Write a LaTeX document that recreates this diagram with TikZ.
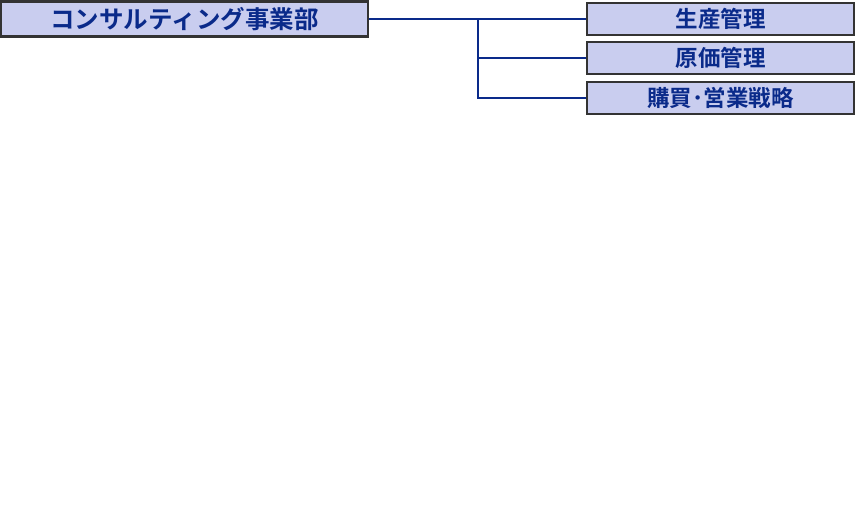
\documentclass[tikz,border=0pt]{standalone}
\usepackage{fontspec}
\newfontfamily\cjk{Noto Sans CJK JP}[BoldFont={Noto Sans CJK JP Bold}]
\begin{document}
\begin{tikzpicture}[x=1pt,y=-1pt,
  box/.style={draw=black!80, line width=2.2pt, fill=boxfill, inner sep=0pt, text=txtblue, font=\cjk\bfseries},
  conn/.style={draw=lineblue, line width=2.6pt}]
\definecolor{boxfill}{HTML}{C9CDEF}
\definecolor{txtblue}{HTML}{0A2A8A}
\definecolor{lineblue}{HTML}{0A2A8A}
\useasboundingbox (0,0) rectangle (857,525);
\node[box, minimum width=367pt, minimum height=35pt, font=\cjk\bfseries\fontsize{24.5}{26}\selectfont] (main) at (184.5,19) {コンサルティング事業部};
\node[box, minimum width=267pt, minimum height=32pt, font=\cjk\bfseries\fontsize{22.5}{24}\selectfont] (a) at (720.5,19) {生産管理};
\node[box, minimum width=267pt, minimum height=32pt, font=\cjk\bfseries\fontsize{22.5}{24}\selectfont] (b) at (720.5,58) {原価管理};
\node[box, minimum width=267pt, minimum height=32pt, font=\cjk\bfseries\fontsize{22.5}{24}\selectfont] (c) at (720.5,98) {購買･営業戦略};
\coordinate (j) at (478,19);
\draw[conn] (main.east) -- (a.west);
\draw[conn] (j) |- (b.west);
\draw[conn] (j) |- (c.west);
\end{tikzpicture}
\end{document}
